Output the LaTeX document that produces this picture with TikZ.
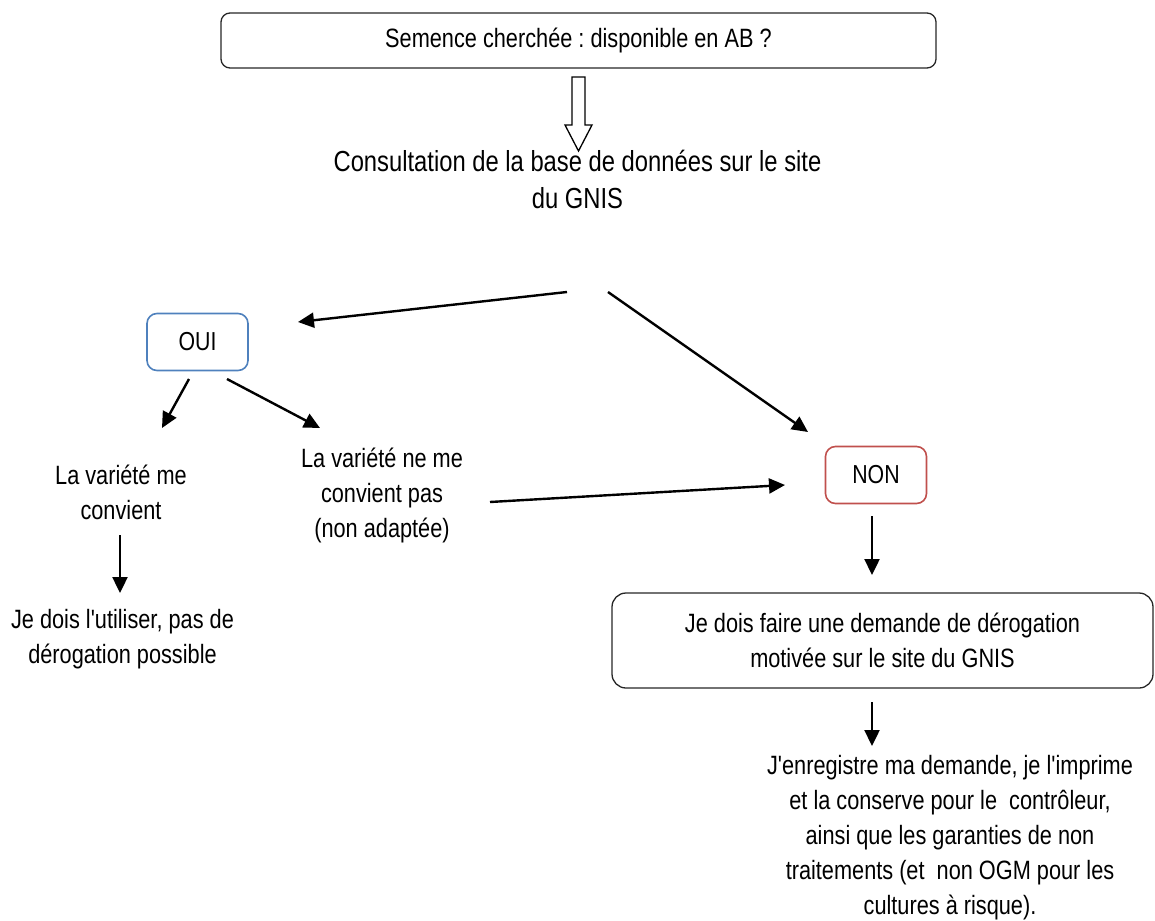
\documentclass[tikz,border=0pt]{standalone}
\usepackage{fontspec}
\newfontfamily\narrowsf{Liberation Sans}[FakeStretch=0.82]
\usetikzlibrary{arrows.meta}
\frenchspacing

\definecolor{ouiblue}{HTML}{4F81BD}
\definecolor{nonred}{HTML}{C0504D}

\tikzset{
  txt/.style={font=\narrowsf\fontsize{26.5}{35}\selectfont, align=center, inner sep=0pt},
  box/.style={draw=black!85, line width=1.3pt, rounded corners=9pt},
  choice/.style={line width=1.6pt, rounded corners=10pt, minimum width=101pt,
    minimum height=57pt, inner sep=0pt, font=\narrowsf\fontsize{26}{30}\selectfont},
  arr/.style={line width=2.4pt, -{Triangle[length=16pt,width=15pt]}},
}

\begin{document}
\begin{tikzpicture}[x=1pt,y=-1pt]
\useasboundingbox (0,0) rectangle (1155,920);

% question
\node[box, txt, minimum width=715pt, minimum height=55pt] (seed) at (578.5,40.5)
  {Semence cherchée : disponible en AB ?};
\draw[line width=1.3pt] (572,77) -- (585,77) -- (585,125) -- (592,125)
  -- (578.5,151) -- (565,125) -- (572,125) -- cycle;
\node[txt, font=\narrowsf\fontsize{29}{37}\selectfont] (base) at (577.5,179.5)
  {Consultation de la base de données sur le site\\du GNIS};

% answers
\node[choice, draw=ouiblue] (oui) at (197.5,342) {OUI};
\node[choice, draw=nonred] (non) at (876,475) {NON};

\node[txt] (conv) at (121,492) {La variété me\\convient};
\node[txt] (nconv) at (382,495) {La variété ne me\\convient pas\\(non adaptée)};
\node[txt] (util) at (122.5,639.5) {Je dois l'utiliser, pas de\\dérogation possible};

\node[box, txt, rounded corners=14pt, minimum width=541pt, minimum height=95pt]
  (derog) at (882.5,640.5)
  {Je dois faire une demande de dérogation\\motivée sur le site du GNIS};
\node[txt] (final) at (950,838)
  {J'enregistre ma demande, je l'imprime\\et la conserve pour le \ contrôleur,\\
   ainsi que les garanties de non\\traitements (et \ non OGM pour les\\cultures à risque).};

% arrow ends
\coordinate (base-l) at (567,292);
\coordinate (oui-in) at (298,322);
\coordinate (base-r) at (608,292);
\coordinate (non-in) at (808,432);
\coordinate (oui-l) at (189,379);
\coordinate (conv-in) at (162,428);
\coordinate (oui-r) at (227,379);
\coordinate (nconv-in) at (320,428);
\coordinate (nconv-out) at (490,502);
\coordinate (non-l) at (785,485);
\coordinate (conv-out) at (120,535);
\coordinate (util-in) at (120,593);
\coordinate (non-out) at (872,516);
\coordinate (derog-in) at (872,575);
\coordinate (derog-out) at (872,702);
\coordinate (final-in) at (872,746);

\draw[arr] (base-l) -- (oui-in);
\draw[arr] (base-r) -- (non-in);
\draw[arr] (oui-l) -- (conv-in);
\draw[arr] (oui-r) -- (nconv-in);
\draw[arr] (nconv-out) -- (non-l);
\draw[arr] (conv-out) -- (util-in);
\draw[arr] (non-out) -- (derog-in);
\draw[arr] (derog-out) -- (final-in);
\end{tikzpicture}
\end{document}
